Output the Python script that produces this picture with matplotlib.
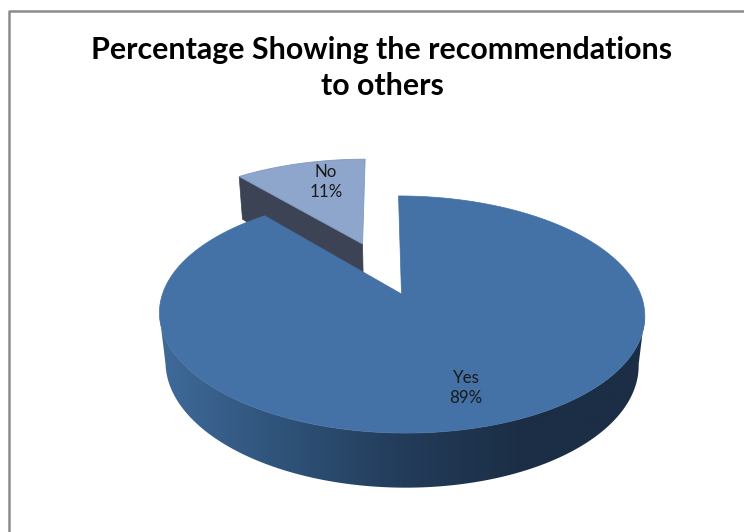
#!/usr/bin/python3

import numpy as np
from matplotlib import pyplot as plt
from matplotlib.colors import LinearSegmentedColormap
from matplotlib.patches import Polygon

title = "Percentage Showing the recommendations\nto others"
categories = ["Yes", "No"]
values = [89, 11]

# pie placement in pixels, with a bit of perspective
CX, CY = 401.5, 294.0
A, B, K = 239.0, 115.0, 0.173
SHEAR = -3.5
DEPTH, DEPTH_W = 50.0, 0.025
EXPLODE = 0.5

YES_TOP = "#4471a6"
NO_TOP = "#8fa6cc"
NO_WALL = "#3b4354"
wall_cmap = LinearSegmentedColormap.from_list(
    "wall", ["#3f6a9a", "#2f5379", "#233c5a", "#1b2e45", "#1b2e45"])


def project(u, v, z=0.0):
    # z = 0 is the top face, z = -1 the bottom one
    w = 1 + K * v - DEPTH_W * z
    return CX + (A * u + SHEAR * v) / w, CY - (B * v + DEPTH * z) / w


def wedge_points(t0, t1, offset=(0.0, 0.0), z=0.0, n=300):
    t = np.linspace(t0, t1, n)
    u = np.r_[offset[0], np.sin(t) + offset[0]]
    v = np.r_[offset[1], np.cos(t) + offset[1]]
    x, y = project(u, v, z)
    return np.column_stack([x, y])


fig = plt.figure(figsize=(7.44, 5.32), dpi=100)
ax = fig.add_axes([0.0, 0.0, 1.0, 1.0], frameon=False)

# chart frame
frame_x = [8.5, 8.5, 744]
frame_y = [532, 11, 11]
ax.plot(frame_x, frame_y, color="#8c8c8c", lw=1.8, solid_capstyle="butt", zorder=1)

ax.text(382, 68, title, ha="center", va="center", fontsize=21.9, fontweight="bold",
        family="Lato", color="black", linespacing=1.38, zorder=6)

# slice angles clockwise from 12 o'clock
fracs = np.array(values) / sum(values)
yes_end = 2 * np.pi * fracs[0]
mid = yes_end + np.pi * fracs[1]
offset = (EXPLODE * np.sin(mid), EXPLODE * np.cos(mid))

# exploded slice: wall first, then its top
top = wedge_points(yes_end, 2 * np.pi, offset)
bottom = wedge_points(yes_end, 2 * np.pi, offset, z=-1.0)
ax.add_patch(Polygon(np.vstack([top[[1, 0]], bottom[[0, 1]]]), closed=True,
                     fc=NO_WALL, ec=NO_WALL, lw=0.5, zorder=2))
ax.add_patch(Polygon(top, closed=True, fc=NO_TOP, ec="#7f97bf", lw=0.6, zorder=3))

# rim of the big slice, a horizontal gradient clipped to the visible band
t_side = np.arccos(-K)
t = np.linspace(t_side, 2 * np.pi - t_side, 400)
x0, y0 = project(np.sin(t), np.cos(t))
x1, y1 = project(np.sin(t), np.cos(t), -1.0)
rim = Polygon(np.column_stack([np.r_[x0, x1[::-1]], np.r_[y0, y1[::-1]]]), closed=True,
              fc="none", ec="none", transform=ax.transData)
ax.add_patch(rim)
gradient = np.linspace(0, 1, 256).reshape(1, -1)
im = ax.imshow(gradient, cmap=wall_cmap, extent=[x0.min(), x0.max(), 532, 0], aspect="auto",
               interpolation="bilinear", zorder=4)
im.set_clip_path(rim)

ax.add_patch(Polygon(wedge_points(0, yes_end), closed=True, fc=YES_TOP, ec=YES_TOP, lw=0.5, zorder=5))

# data labels
ax.text(466, 388, f"{categories[0]}\n{values[0]}%", ha="center", va="center", fontsize=12.2,
        family="Lato", color="#1a1a1a", linespacing=1.33, zorder=7)
ax.text(326, 182, f"{categories[1]}\n{values[1]}%", ha="center", va="center", fontsize=12.2,
        family="Lato", color="#1a1a1a", linespacing=1.33, zorder=7)

ax.set_xlim(0, 744)
ax.set_ylim(532, 0)
ax.set_xticks([]), ax.set_yticks([])

fig.savefig("out.png", dpi=100)
